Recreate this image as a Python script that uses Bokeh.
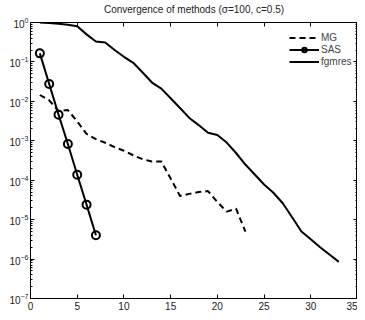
from bokeh.plotting import figure
from bokeh.models import (LogAxis, LinearAxis, FixedTicker, LogTickFormatter,
                          CustomJSTickFormatter, Legend, LegendItem, Range1d,
                          ColumnDataSource, Title)
from bokeh.embed import file_html
from bokeh.resources import INLINE

# ---- data ----
title_text = "Convergence of methods (\u03c3=100, c=0.5)"

mg_iter = list(range(1, 24))
mg_res = [0.0145, 0.0106, 0.0057, 0.0060, 0.0031, 0.0015, 0.0011, 8.9e-4,
          6.9e-4, 5.6e-4, 4.3e-4, 3.4e-4, 3.0e-4, 3.0e-4, 1.1e-4, 4.0e-5,
          4.5e-5, 5.0e-5, 5.3e-5, 2.8e-5, 1.6e-5, 1.9e-5, 5.0e-6]

sas_iter = list(range(1, 8))
sas_res = [0.165, 0.0277, 0.0046, 8.3e-4, 1.37e-4, 2.4e-5, 4.0e-6]

fg_iter = list(range(1, 34))
fg_res = [1.0, 0.97, 0.93, 0.88, 0.80, 0.50, 0.33, 0.31, 0.20, 0.135, 0.095,
          0.054, 0.030, 0.021, 0.012, 0.0068, 0.0038, 0.0025, 0.0016, 0.0014,
          9.0e-4, 4.9e-4, 2.5e-4, 1.4e-4, 7.8e-5, 4.8e-5, 2.6e-5, 1.15e-5,
          5.0e-6, 3.2e-6, 2.0e-6, 1.3e-6, 8.5e-7]

x_ticks = [0, 5, 10, 15, 20, 25, 30, 35]
y_exponents = [0, -1, -2, -3, -4, -5, -6, -7]
legend_labels = ["MG", "SAS", "fgmres"]

FONT = "Liberation Sans"

y_major = [10.0 ** e for e in y_exponents]
y_minor = [m * 10.0 ** e for e in y_exponents[1:] for m in range(2, 10)]

p = figure(width=357, height=312, y_axis_type="log",
           x_range=Range1d(0, 35), y_range=Range1d(1e-7, 1),
           output_backend="svg", toolbar_location=None,
           min_border_left=30, min_border_right=0, min_border_top=22,
           min_border_bottom=14)

p.title.text = title_text
p.title.text_font = FONT
p.title.text_font_size = "10px"
p.title.text_font_style = "normal"
p.title.text_color = "#222222"
p.title.align = "center"
p.title.standoff = 0
p.title.offset = 0

p.xgrid.visible = False
p.ygrid.visible = False
p.outline_line_color = "black"
p.outline_line_width = 1
p.background_fill_color = "white"
p.border_fill_color = "white"

def style_axis(ax, labels=True):
    ax.axis_line_color = "black"
    ax.major_tick_in = 4
    ax.major_tick_out = 0
    ax.minor_tick_in = 2
    ax.minor_tick_out = 0
    ax.major_tick_line_color = "black"
    ax.minor_tick_line_color = "black"
    ax.major_label_text_font = FONT
    ax.major_label_text_font_size = "10px"
    ax.major_label_text_color = "#222222"
    ax.major_label_standoff = 3
    ax.axis_label_standoff = 0
    if not labels:
        ax.formatter = CustomJSTickFormatter(code="return ''")
        ax.major_label_standoff = 0

xt = FixedTicker(ticks=x_ticks)
yt = FixedTicker(ticks=y_major, minor_ticks=y_minor)

p.xaxis.ticker = xt
p.yaxis.ticker = yt
p.yaxis.formatter = LogTickFormatter()
style_axis(p.xaxis[0])
style_axis(p.yaxis[0])
p.yaxis.major_label_standoff = 2

top = LinearAxis(ticker=FixedTicker(ticks=x_ticks))
style_axis(top, labels=False)
p.add_layout(top, "above")
# small spacer between the frame and the title
p.add_layout(Title(text=" ", text_font_size="5px", standoff=0), "above")
right = LogAxis(ticker=FixedTicker(ticks=y_major, minor_ticks=y_minor))
style_axis(right, labels=False)
p.add_layout(right, "right")

mg_src = ColumnDataSource(dict(x=mg_iter, y=mg_res))
sas_src = ColumnDataSource(dict(x=sas_iter, y=sas_res))
fg_src = ColumnDataSource(dict(x=fg_iter, y=fg_res))

r_mg = p.line("x", "y", source=mg_src, line_color="black", line_width=2,
              line_dash="6 4")
r_sas = p.line("x", "y", source=sas_src, line_color="black", line_width=2)
r_sas_m = p.scatter("x", "y", source=sas_src, marker="circle", size=8,
                    fill_color=None, line_color="black", line_width=2)
r_fg = p.line("x", "y", source=fg_src, line_color="black", line_width=2)

legend = Legend(items=[
    LegendItem(label=legend_labels[0], renderers=[r_mg]),
    LegendItem(label=legend_labels[1], renderers=[r_sas, r_sas_m]),
    LegendItem(label=legend_labels[2], renderers=[r_fg]),
], location=(259, 231), border_line_alpha=0, background_fill_alpha=0,
   label_text_font=FONT, label_text_font_size="10px", glyph_width=30,
   glyph_height=11, label_height=11, label_standoff=2, spacing=1, padding=0,
   margin=0)
p.add_layout(legend, "center")

open("out.html", "w").write(file_html(p, INLINE))
